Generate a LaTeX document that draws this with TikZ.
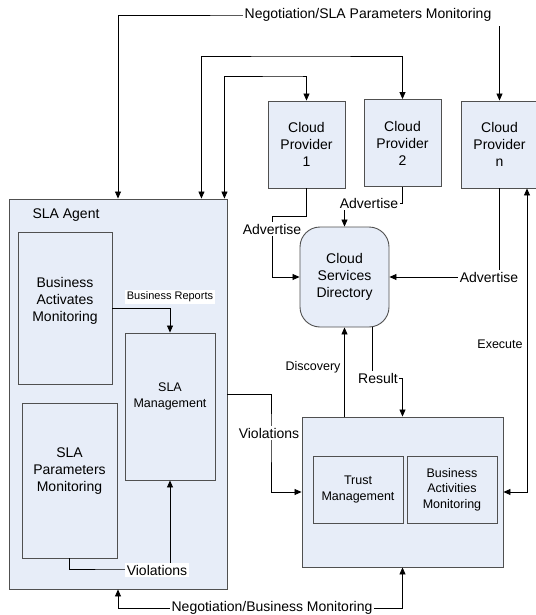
\documentclass[tikz,border=0pt]{standalone}
\usepackage{fontspec}
\setmainfont{Liberation Sans}
\usetikzlibrary{arrows.meta}

\definecolor{boxfill}{RGB}{231,237,248}
\definecolor{boxline}{RGB}{80,80,80}
\newcommand{\bigfont}{\fontsize{14}{17}\selectfont}
\newcommand{\midfont}{\fontsize{12.5}{15.5}\selectfont}
\newcommand{\smallfont}{\fontsize{11}{13}\selectfont}

\begin{document}
\begin{tikzpicture}[x=1pt,y=-1pt,
    box/.style={draw=boxline,fill=boxfill,line width=0.9pt,inner sep=0pt,align=center},
    tag/.style={fill=white,inner sep=1.5pt},
    flow/.style={draw,line width=0.8pt,-{Triangle[length=7pt,width=6pt]}},
    twoway/.style={flow,{Triangle[length=7pt,width=6pt]}-{Triangle[length=7pt,width=6pt]}}]

  \useasboundingbox (0,0) rectangle (535,615);

  % SLA agent and its parts
  \node[box,minimum width=218pt,minimum height=390pt] (agent) at (118,394) {};
  \node[anchor=west,font=\bigfont] (agentname) at (29,215) {SLA Agent};
  \node[box,minimum width=94pt,minimum height=152pt,
    label={[font=\bigfont,align=center,yshift=7pt]center:Business\\Activates\\Monitoring}] (bam) at (65,308) {};
  \node[box,minimum width=90pt,minimum height=147pt,
    label={[font=\midfont,align=center,yshift=10pt]center:SLA\\Management}] (slam) at (170,406.5) {};
  \node[box,minimum width=95pt,minimum height=155pt,
    label={[font=\bigfont,align=center,yshift=9.5pt]center:SLA\\Parameters\\Monitoring}] (spm) at (69.5,480.5) {};

  \begin{scope}[every node/.style={box,font=\bigfont,minimum width=77pt,minimum height=87pt}]
    \node (cp1) at (306.5,144.5) {Cloud\\Provider\\1};
    \node (cp2) at (402.5,143)   {Cloud\\Provider\\2};
    \node (cpn) at (499.5,144.5) {Cloud\\Provider\\n};
  \end{scope}

  \node[box,font=\bigfont,rounded corners=20pt,minimum width=89pt,minimum height=100pt] (csd) at (344.5,277) {Cloud\\Services\\Directory};

  \node[box,minimum width=201pt,minimum height=150pt] (exec) at (402.5,492) {};
  \begin{scope}[every node/.style={box,font=\midfont,minimum width=90pt,minimum height=67pt}]
    \node (trust) at (358,489.5) {Trust\\Management};
    \node (bam2)  at (452,489.5) {Business\\Activities\\Monitoring};
  \end{scope}

  % bends
  \coordinate (toplvl)    at (300,15);
  \coordinate (cp2lvl)    at (300,56);
  \coordinate (cp1lvl)    at (300,76);
  \coordinate (adv1bend)  at (272,216);
  \coordinate (adv2lvl)   at (0,203);
  \coordinate (resultlvl) at (390,378);
  \coordinate (violbend)  at (271,433);
  \coordinate (violint)   at (120,569);
  \coordinate (botlvl)    at (272,608);

  % connectors
  \draw[twoway] (agent.north) |- (toplvl) -| (cpn.north);
  \draw[twoway] ([xshift=-26pt]agent.north east) |- (cp2lvl) -| (cp2.north);
  \draw[twoway] ([xshift=-3pt]agent.north east) |- (cp1lvl) -| (cp1.north);
  \draw[flow] (cp1.south) |- (adv1bend) |- (csd.west);
  \draw[flow] (cp2.south) |- (csd.north |- adv2lvl) -- (csd.north);
  \draw[flow] (cpn.south) |- (csd.east);
  \draw[flow] (csd.south |- exec.north) -- (csd.south);
  \draw[flow] ([xshift=27.5pt]csd.south) |- (resultlvl) -| (exec.north);
  \draw[twoway] (exec.east) -| ([xshift=27.5pt]cpn.south);
  \draw[flow] (agent.east) -| (violbend) |- (exec.west);
  \draw[flow] (bam.east) -| (slam.north);
  \draw[flow] (spm.south) |- (violint) -| (slam.south);
  \draw[twoway] (agent.south) |- (botlvl) -| (exec.south);

  % connector labels
  \begin{scope}[every node/.style={tag,font=\bigfont}]
    \node[inner ysep=4pt] (neglab) at (373.5,15) {Negotiation/SLA Parameters Monitoring\hspace*{11pt}};
    \node (advlab1)   at (272,229) {Advertise};
    \node (advlab2)   at (369,203) {Advertise};
    \node (advlabn)   at (489,277) {Advertise};
    \node (resultlab) at (378,378) {Result};
    \node (violab)    at (269,433) {Violations};
    \node (violintlab) at (157,570) {Violations};
    \node (botlab)    at (272,608) {Negotiation/Business Monitoring};
  \end{scope}
  \node[font=\smallfont,tag] (replab) at (170,297) {Business Reports};
  \node[font=\midfont] (disclab) at (313,367) {Discovery};
  \node[font=\midfont] (execlab) at (500,344) {Execute};

\end{tikzpicture}
\end{document}
